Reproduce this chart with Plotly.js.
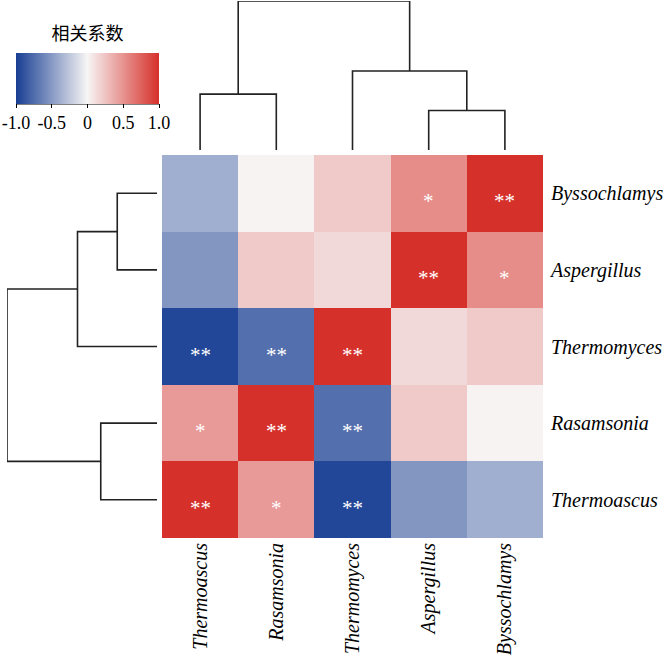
<!DOCTYPE html>
<html>
<head>
<meta charset="utf-8">
<script src="https://cdn.plot.ly/plotly-3.0.1.min.js"></script>
<style>html,body{margin:0;padding:0;background:#fff;}#chart{width:663px;height:658px;}</style>
</head>
<body>
<div id="chart"></div>
<script>
// Leaf order (left->right for columns, bottom->top for rows)
const genera = ["Thermoascus", "Rasamsonia", "Thermomyces", "Aspergillus", "Byssochlamys"];

// Correlation matrix in leaf order
const rThermoascus  = [1.00, 0.46, -0.95, -0.52, -0.39];
const rRasamsonia   = [0.46, 1.00, -0.73, 0.22, 0.01];
const rThermomyces  = [-0.95, -0.73, 1.00, 0.14, 0.22];
const rAspergillus  = [-0.52, 0.22, 0.14, 1.00, 0.53];
const rByssochlamys = [-0.39, 0.01, 0.22, 0.53, 1.00];

// Significance marks
const sThermoascus  = ["**", "*", "**", "", ""];
const sRasamsonia   = ["*", "**", "**", "", ""];
const sThermomyces  = ["**", "**", "**", "", ""];
const sAspergillus  = ["", "", "", "**", "*"];
const sByssochlamys = ["", "", "", "*", "**"];

// Hierarchical clustering merges: [left node, right node, height]; nodes 0-4 are leaves
const mergeLeft   = [3, 0, 2, 6];
const mergeRight  = [4, 1, 5, 7];
const mergeHeight = [0.265, 0.375, 0.53, 1.0];

const cbTickVals = [-1, -0.5, 0, 0.5, 1];
const cbTickText = ["-1.0", "-0.5", "0", "0.5", "1.0"];

const z = [rThermoascus, rRasamsonia, rThermomyces, rAspergillus, rByssochlamys];
const sig = [sThermoascus, sRasamsonia, sThermomyces, sAspergillus, sByssochlamys];
const idx = genera.map((g, i) => i);

// Dendrogram segments
function dendro() {
  const pos = idx.slice();
  const h = idx.map(() => 0);
  const a = [], b = [];
  for (let k = 0; k < mergeLeft.length; k++) {
    const l = mergeLeft[k], r = mergeRight[k], hh = mergeHeight[k];
    a.push(pos[l], pos[l], pos[r], pos[r], null);
    b.push(h[l], hh, hh, h[r], null);
    pos.push((pos[l] + pos[r]) / 2);
    h.push(hh);
  }
  return {pos: a, height: b};
}
const d = dendro();

const serif = "Liberation Serif, Times New Roman, serif";
const W = 663, H = 658;

const heat = {
  type: "heatmap",
  x: idx, y: idx, z: z,
  zmin: -1, zmax: 1,
  colorscale: [[0, "#183e93"], [0.5, "#f7f5f5"], [1, "#d6302a"]],
  xaxis: "x", yaxis: "y",
  hoverinfo: "skip",
  colorbar: {
    orientation: "h",
    lenmode: "pixels", len: 143,
    thickness: 51, thicknessmode: "pixels",
    x: 87.5 / W, xanchor: "center",
    y: 1 - 27 / H, yanchor: "top",
    xpad: 0, ypad: 0,
    outlinewidth: 0,
    tickmode: "array", tickvals: cbTickVals, ticktext: cbTickText,
    ticks: "outside", ticklen: 4, tickwidth: 1, tickcolor: "#000",
    tickfont: {family: serif, size: 18, color: "#000"},
    title: {text: "相关系数", side: "top", font: {family: "Noto Sans CJK SC", size: 18, color: "#000"}}
  }
};

const topDendro = {
  type: "scatter", mode: "lines",
  x: d.pos, y: d.height,
  xaxis: "x2", yaxis: "y2",
  line: {color: "#222", width: 1.6},
  hoverinfo: "skip", showlegend: false
};
const leftDendro = {
  type: "scatter", mode: "lines",
  x: d.height, y: d.pos,
  xaxis: "x3", yaxis: "y3",
  line: {color: "#222", width: 1.6},
  hoverinfo: "skip", showlegend: false
};

const annotations = [];
for (let i = 0; i < z.length; i++) {
  for (let j = 0; j < z[i].length; j++) {
    if (sig[i][j]) {
      annotations.push({
        x: j, y: i, xref: "x", yref: "y",
        text: sig[i][j], showarrow: false, yshift: -8,
        font: {family: serif, size: 21, color: "#fff"}
      });
    }
  }
}

const hx0 = 162 / W, hx1 = 543 / W;
const hyTop = 1 - 155 / H, hyBot = 1 - 538 / H;

const layout = {
  width: W, height: H,
  margin: {l: 0, r: 0, t: 0, b: 0},
  paper_bgcolor: "#fff", plot_bgcolor: "rgba(0,0,0,0)",
  showlegend: false,
  xaxis: {
    domain: [hx0, hx1], range: [-0.5, 4.5],
    tickmode: "array", tickvals: idx, ticktext: genera,
    tickangle: -90, ticks: "", showgrid: false, zeroline: false, showline: false,
    tickfont: {family: serif, size: 20, color: "#000", style: "italic"},
    fixedrange: true
  },
  yaxis: {
    domain: [hyBot, hyTop], range: [-0.5, 4.5], side: "right",
    tickmode: "array", tickvals: idx, ticktext: genera,
    ticks: "", showgrid: false, zeroline: false, showline: false,
    ticklabelstandoff: 7,
    tickfont: {family: serif, size: 20, color: "#000", style: "italic"},
    fixedrange: true
  },
  xaxis2: {domain: [hx0, hx1], range: [-0.5, 4.5], anchor: "y2", visible: false},
  yaxis2: {domain: [1 - 150 / H, 1 - 1 / H], range: [0, 1], anchor: "x2", visible: false},
  xaxis3: {domain: [7 / W, 157 / W], range: [1, 0], anchor: "y3", visible: false},
  yaxis3: {domain: [hyBot, hyTop], range: [-0.5, 4.5], anchor: "x3", visible: false},
  annotations: annotations,
  shapes: [{
    type: "line", xref: "paper", yref: "paper",
    x0: 16 / W, x1: 159 / W, y0: 1 - 104 / H, y1: 1 - 104 / H,
    line: {color: "#000", width: 1.2}
  }]
};

Plotly.newPlot("chart", [heat, topDendro, leftDendro], layout, {displayModeBar: false, staticPlot: true});
</script>
</body>
</html>
